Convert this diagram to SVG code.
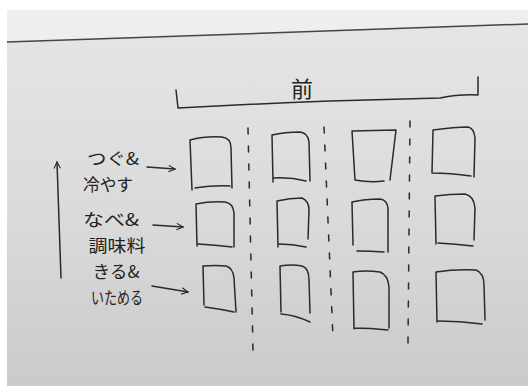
<svg xmlns="http://www.w3.org/2000/svg" width="528" height="387" viewBox="0 0 528 387">
<defs>
<linearGradient id="board" x1="0" y1="0" x2="0" y2="1">
<stop offset="0" stop-color="#e6e6e6"/>
<stop offset="0.55" stop-color="#dadada"/>
<stop offset="1" stop-color="#cacaca"/>
</linearGradient>
<marker id="ah" viewBox="0 0 10 10" refX="9" refY="5" markerWidth="8" markerHeight="8" orient="auto" markerUnits="userSpaceOnUse">
<path d="M1,1 L9,5 L1,9" fill="none" stroke="#2a2a2a" stroke-width="1.4"/>
</marker>
</defs>
<style>
.ink{fill:none;stroke:#2a2a2a;stroke-width:1.5;stroke-linecap:round;stroke-linejoin:round}
.dash{fill:none;stroke:#2a2a2a;stroke-width:1.5;stroke-dasharray:6 12;stroke-linecap:round}
.lbl{font-family:"Noto Sans CJK JP","Noto Sans CJK SC",sans-serif;font-size:17px;fill:#222}
.title{font-family:"Noto Sans CJK JP","Noto Sans CJK SC",sans-serif;font-size:22px;fill:#222}
</style>
<rect width="528" height="387" fill="#ffffff"/>
<rect x="7" y="10" width="521" height="376" fill="url(#board)"/>
<path d="M7,10 H528 V24 L7,42 Z" fill="#eeeeee"/>
<path d="M7,42 L528,24" stroke="#444" stroke-width="1.5" fill="none"/>

<g id="header">
<path class="ink" d="M176,90 L178,108 Q250,104 330,101 Q400,99 440,98 Q460,94 478,95 L478,77"/>
<text class="title" x="302" y="97" text-anchor="middle">前</text>
</g>

<g id="time-axis">
<path class="ink" d="M61,278 L57,162" marker-end="url(#ah)"/>
</g>

<g id="label-row1">
<text class="lbl" x="113" y="165" text-anchor="middle" textLength="52" lengthAdjust="spacingAndGlyphs">つぐ&amp;</text>
<text class="lbl" x="108" y="191" text-anchor="middle" textLength="50" lengthAdjust="spacingAndGlyphs">冷やす</text>
</g>
<g id="label-row2">
<text class="lbl" x="111" y="226" text-anchor="middle" textLength="56" lengthAdjust="spacingAndGlyphs">なべ&amp;</text>
<text class="lbl" x="117" y="252" text-anchor="middle" textLength="57" lengthAdjust="spacingAndGlyphs">調味料</text>
</g>
<g id="label-row3">
<text class="lbl" x="116" y="278" text-anchor="middle" textLength="47" lengthAdjust="spacingAndGlyphs">きる&amp;</text>
<text class="lbl" x="117" y="304" text-anchor="middle" textLength="52" lengthAdjust="spacingAndGlyphs">いためる</text>
</g>

<g id="connectors">
<path class="ink" d="M147,167 L175,169" marker-end="url(#ah)"/>
<path class="ink" d="M153,225 L183,227" marker-end="url(#ah)"/>
<path class="ink" d="M152,286 L188,292" marker-end="url(#ah)"/>
</g>

<g id="dividers">
<path class="dash" d="M248,128 L253,350"/>
<path class="dash" d="M324,127 L333,338"/>
<path class="dash" d="M410,121 L408,343"/>
</g>

<g id="box-r1c1"><path class="ink" d="M192,190 L190,140 Q205,136 222,137 Q231,138 231,148 L232,188 M230,186 Q215,185 195,188"/></g>
<g id="box-r1c2"><path class="ink" d="M273,182 L272,135 Q285,132 300,132 Q308,133 309,142 L310,181 M306,181 Q290,177 274,178"/></g>
<g id="box-r1c3"><path class="ink" d="M352,131 L396,130 L390,180 M384,181 Q370,183 355,180 L352,131"/></g>
<g id="box-r1c4"><path class="ink" d="M433,130 Q455,127 468,127 Q474,128 475,138 L474,177 M471,176 Q450,173 432,173 L433,130"/></g>

<g id="box-r2c1"><path class="ink" d="M197,246 L196,204 Q210,201 225,202 Q233,203 234,213 L234,247 M232,247 Q215,245 198,244"/></g>
<g id="box-r2c2"><path class="ink" d="M278,247 L277,201 Q290,198 302,198 Q309,201 309,210 L308,239 M306,247 Q292,244 279,244"/></g>
<g id="box-r2c3"><path class="ink" d="M353,245 L352,202 Q365,199 380,199 Q387,200 388,208 L388,252 M384,252 Q370,251 357,251"/></g>
<g id="box-r2c4"><path class="ink" d="M436,244 L435,196 Q450,194 465,194 Q474,196 475,208 L474,240 M473,246 Q455,244 438,243"/></g>

<g id="box-r3c1"><path class="ink" d="M204,305 L203,266 Q215,265 226,266 Q233,268 234,278 L236,312 M234,312 Q220,309 205,307"/></g>
<g id="box-r3c2"><path class="ink" d="M281,312 L280,266 Q292,264 302,266 Q309,268 309,280 L310,313 M310,322 Q295,315 281,314"/></g>
<g id="box-r3c3"><path class="ink" d="M354,329 L353,272 Q365,270 380,272 Q388,275 389,287 L389,328 M388,330 Q370,328 354,328"/></g>
<g id="box-r3c4"><path class="ink" d="M437,322 L436,272 Q455,269 476,270 Q484,273 484,285 L485,320 M482,324 Q460,321 438,321"/></g>
</svg>
